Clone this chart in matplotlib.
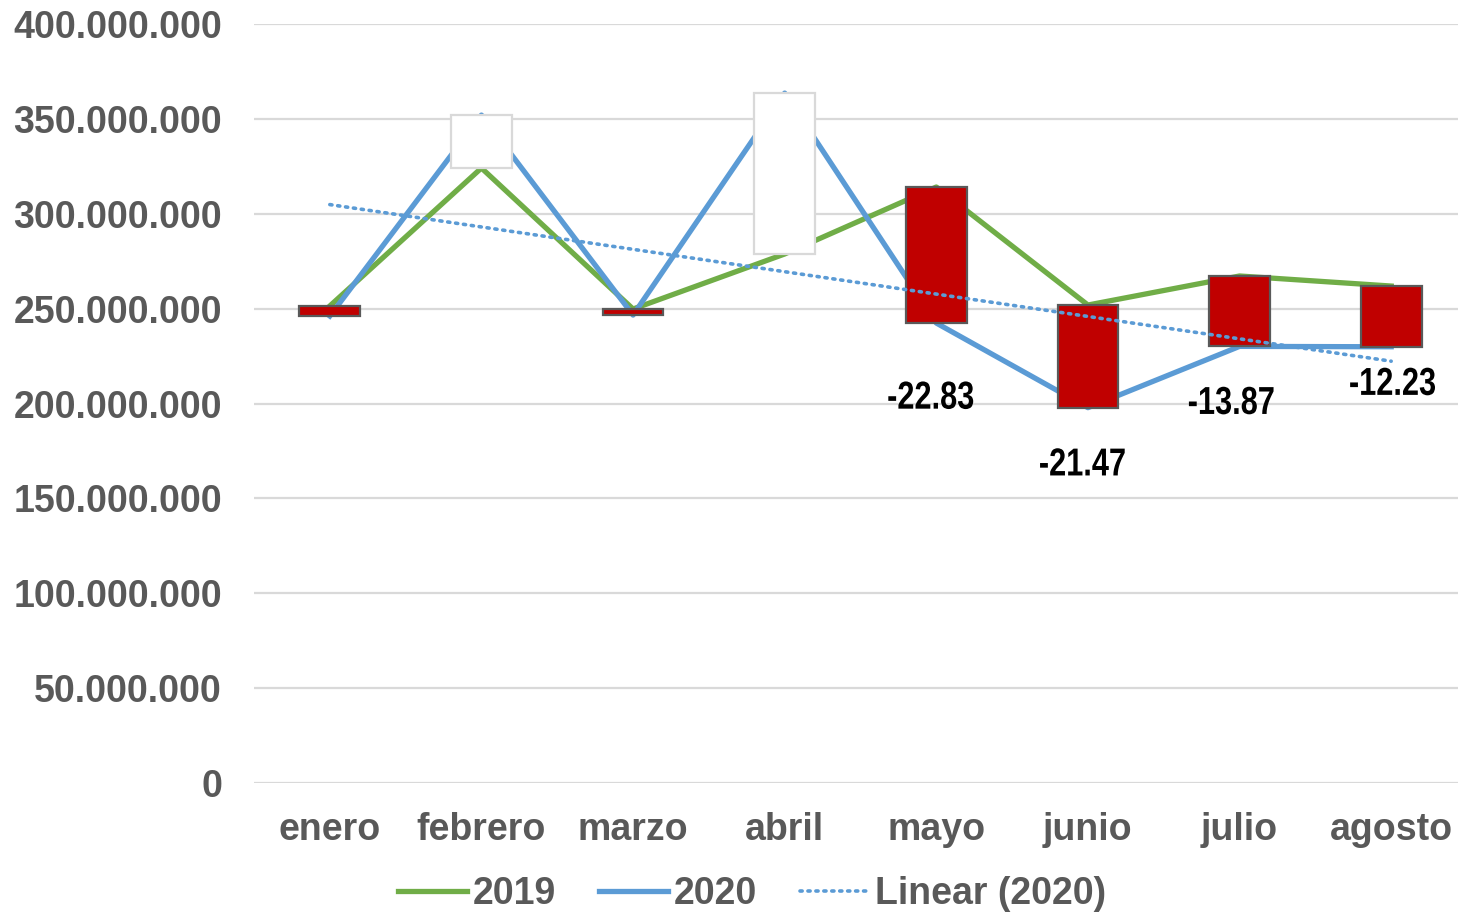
import matplotlib
matplotlib.use("Agg")
import matplotlib.pyplot as plt
import numpy as np
from matplotlib.font_manager import FontProperties
from matplotlib.patches import PathPatch
from matplotlib.textpath import TextPath
from matplotlib.ticker import FuncFormatter
from matplotlib.transforms import Affine2D, ScaledTranslation

months = ["enero", "febrero", "marzo", "abril", "mayo", "junio", "julio", "agosto"]
sales_2019 = [251.4, 324.1, 249.8, 278.8, 314.1, 251.9, 267.2, 261.9]  # millions
sales_2020 = [246.1, 352.0, 246.6, 363.6, 242.4, 197.8, 230.1, 229.9]
change_labels = [None, None, None, None, "-22.83", "-21.47", "-13.87", "-12.23"]
label_offsets = [None, None, None, None, (-4, -52), (-4, -39), (-6, -39), (1, -25)]

GREEN = "#70AD47"
BLUE = "#5B9BD5"
RED = "#C00000"
TEXT = "#595959"
GRID = "#D9D9D9"
FS = 27

plt.rcParams["font.family"] = ["Liberation Sans", "DejaVu Sans"]
plt.rcParams["font.weight"] = "bold"

fig = plt.figure(figsize=(14.58, 9.14), dpi=100)
ax = fig.add_axes([254 / 1458, 1 - 783 / 914, 1213 / 1458, 759 / 914])

x = np.arange(len(months))
y19 = np.array(sales_2019) * 1e6
y20 = np.array(sales_2020) * 1e6

ax.plot(x, y19, color=GREEN, lw=3.8, label="2019", zorder=3, solid_joinstyle="round")
ax.plot(x, y20, color=BLUE, lw=3.8, label="2020", zorder=3, solid_joinstyle="round")

# up/down bars
for xi, a, b in zip(x, y19, y20):
    lo, hi = min(a, b), max(a, b)
    if b >= a:
        ax.bar(xi, hi - lo, bottom=lo, width=0.4, color="white", edgecolor=GRID, lw=1.6, zorder=4)
    else:
        ax.bar(xi, hi - lo, bottom=lo, width=0.4, color=RED, edgecolor=TEXT, lw=1.6, zorder=4)

# linear trend of 2020
coef = np.polyfit(x, y20, 1)
ax.plot(x, np.polyval(coef, x), color=BLUE, lw=2.6, linestyle=(0, (0.6, 1.6)),
        dash_capstyle="round", label="Linear (2020)", zorder=5)

# data labels in a narrow bold face (horizontally squeezed text path)
prop = FontProperties(family="Liberation Sans", weight="bold")
px = fig.dpi / 72
for xi, yi, lab, off in zip(x, y20, change_labels, label_offsets):
    if lab is None:
        continue
    tp = TextPath((0, 0), lab, size=FS, prop=prop)
    ext = tp.get_extents()
    cx, cy = (ext.x0 + ext.x1) / 2, (ext.y0 + ext.y1) / 2
    tr = (Affine2D().translate(-cx, -cy).scale(0.82 * px, 1.04 * px)
          + ScaledTranslation(xi, yi, ax.transData)
          + ScaledTranslation(off[0] / 72, off[1] / 72, fig.dpi_scale_trans))
    ax.add_patch(PathPatch(tp, transform=tr, facecolor="black", edgecolor="none", zorder=6))

ax.set_xlim(-0.5, len(months) - 0.5)
ax.set_ylim(0, 400e6)
ax.set_yticks(np.arange(0, 400e6 + 1, 50e6))
ax.yaxis.set_major_formatter(FuncFormatter(lambda v, p: f"{int(v):,}".replace(",", ".")))
ax.set_xticks(x)
ax.set_xticklabels(months)
ax.grid(axis="y", color=GRID, lw=1.6, zorder=0)
for s in ax.spines.values():
    s.set_visible(False)
ax.tick_params(axis="both", length=0, labelsize=FS, labelcolor=TEXT)
ax.tick_params(axis="y", pad=23)
ax.tick_params(axis="x", pad=21)

fig.legend(loc="center", bbox_to_anchor=(752 / 1458, 1 - 894 / 914), ncol=3, frameon=False,
           fontsize=FS, labelcolor=TEXT, handlelength=1.85, handletextpad=0.15, columnspacing=1.15,
           borderaxespad=0)

fig.savefig("out.png", dpi=100)
